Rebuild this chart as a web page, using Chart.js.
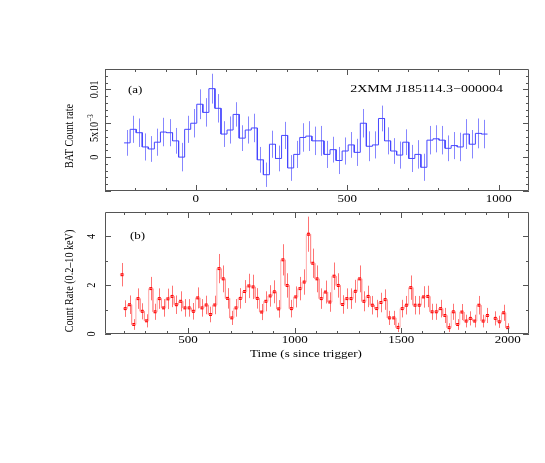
<!DOCTYPE html>
<html>
<head>
<meta charset="utf-8">
<script src="https://cdn.jsdelivr.net/npm/chart.js@4.4.1/dist/chart.umd.min.js"></script>
<style>
html, body { margin: 0; padding: 0; background: #fff; }
#wrap { position: relative; width: 545px; height: 463px; }
canvas { position: absolute; left: 0; top: 0; }
</style>
</head>
<body>
<div id="wrap">
  <canvas id="batChart" width="545" height="463"></canvas>
  <canvas id="xrtChart" width="545" height="463"></canvas>
</div>
<script>
// ---- panel (a): BAT light curve, 20 s bins (bin centres, s since trigger)
const batBinWidth = 20;
const batTime = [-227,-207,-187,-167,-147,-127,-107,-87,-67,-47,-27,-7,13,33,53,73,93,113,133,153,
  173,193,213,233,253,273,293,313,333,353,373,393,413,433,453,473,493,513,533,553,
  573,593,613,633,653,673,693,713,733,753,773,793,813,833,853,873,893,913,933,953];
const batRate = [0.0021,0.0041,0.0036,0.0015,0.0012,0.0022,0.0037,0.0036,0.0024,0.0000,
  0.0041,0.0050,0.0078,0.0066,0.0101,0.0072,0.0034,0.0040,0.0063,0.0028,
  0.0040,0.0043,-0.0004,-0.0026,0.0019,-0.0002,0.0032,-0.0016,0.0004,0.0029,
  0.0031,0.0024,0.0024,0.0004,0.0011,-0.0005,0.0009,0.0018,0.0007,0.0050,
  0.0016,0.0018,0.0057,0.0024,0.0009,0.0003,0.0022,-0.0002,0.0004,-0.0015,
  0.0025,0.0027,0.0025,0.0013,0.0017,0.0015,0.0034,0.0019,0.0035,0.0034];
const batErr = [0.0019,0.0020,0.0021,0.0020,0.0019,0.0020,0.0021,0.0020,0.0019,0.0021,
  0.0020,0.0021,0.0022,0.0021,0.0022,0.0021,0.0019,0.0020,0.0018,0.0019,
  0.0020,0.0021,0.0019,0.0018,0.0020,0.0019,0.0020,0.0019,0.0020,0.0021,
  0.0022,0.0021,0.0022,0.0020,0.0019,0.0020,0.0020,0.0019,0.0020,0.0021,
  0.0022,0.0020,0.0019,0.0020,0.0019,0.0020,0.0019,0.0020,0.0021,0.0020,
  0.0021,0.0020,0.0021,0.0019,0.0020,0.0021,0.0022,0.0021,0.0022,0.0021];
const batXTicks = [0, 500, 1000];
const batYTicks = [0, 0.005, 0.01];
const batYLabels = ['0', '5x10|\u22123', '0.01'];   // "|" splits off the exponent

// ---- panel (b): XRT light curve (0.2-10 keV), 20 s bins
const xrtBinWidth = 20;
const xrtTime = [190,
  205,225,245,265,285,305,325,345,365,385,405,425,445,465,485,505,525,545,565,585,
  605,625,645,665,685,705,725,745,765,785,805,825,845,865,885,905,925,945,965,985,
  1005,1025,1045,1065,1085,1105,1125,1145,1165,1185,1205,1225,1245,1265,1285,1305,1325,1345,1365,1385,
  1405,1425,1445,1465,1485,1505,1525,1545,1565,1585,1605,1625,1645,1665,1685,1705,1725,1745,1765,1785,
  1805,1825,1845,1865,1885,1905,
  1942,1961,1981,2000];
const xrtRate = [2.43,
  1.04,1.20,0.39,1.45,0.93,0.54,1.86,0.91,1.45,1.07,1.44,1.54,1.20,1.34,1.07,1.07,0.93,1.48,1.07,1.19,
  0.80,1.19,2.68,2.26,1.46,0.66,1.07,1.46,1.74,1.97,1.93,1.46,0.90,1.34,1.56,1.73,1.03,3.04,1.99,1.04,
  1.52,1.86,2.13,4.09,2.90,2.26,1.45,1.72,1.31,2.37,1.99,1.21,1.45,1.45,1.75,2.26,1.34,1.54,1.18,1.04,
  1.29,1.41,0.66,0.66,0.27,1.04,1.18,1.90,1.18,1.18,1.52,1.54,0.91,0.91,1.04,0.76,0.26,0.91,0.39,0.90,
  0.53,0.64,0.53,1.18,0.53,0.76,
  0.64,0.50,0.87,0.26];
const xrtErr = [0.48,
  0.34,0.38,0.22,0.42,0.33,0.27,0.48,0.33,0.42,0.36,0.42,0.44,0.38,0.41,0.36,0.36,0.34,0.43,0.36,0.38,
  0.32,0.38,0.60,0.55,0.42,0.29,0.36,0.42,0.47,0.50,0.50,0.42,0.33,0.41,0.44,0.47,0.36,0.64,0.50,0.36,
  0.43,0.48,0.52,0.72,0.60,0.55,0.42,0.47,0.40,0.56,0.50,0.38,0.42,0.42,0.47,0.55,0.41,0.44,0.38,0.36,
  0.40,0.42,0.29,0.29,0.19,0.36,0.38,0.50,0.38,0.38,0.44,0.44,0.33,0.33,0.36,0.31,0.18,0.33,0.22,0.33,
  0.26,0.29,0.26,0.38,0.26,0.31,
  0.29,0.25,0.33,0.18];
const xrtSegmentStarts = [0, 1, 87];  // indices where the connecting line is broken
const xrtXTicks = [500, 1000, 1500, 2000];
const xrtYTicks = [0, 2, 4];

const FONT = '"Liberation Serif", "Times New Roman", serif';
const SQUASH = 0.78;

// histogram outline from bin centres
function histPoints(times, vals, width, breaks) {
  const pts = [];
  for (let i = 0; i < times.length; i++) {
    if (breaks && i > 0 && breaks.includes(i)) pts.push({x: (times[i] + times[i - 1]) / 2, y: null});
    pts.push({x: times[i] - width / 2, y: vals[i]}, {x: times[i] + width / 2, y: vals[i]});
  }
  return pts;
}

function hText(ctx, s, x, y, size, align) {
  ctx.save();
  ctx.translate(x, y);
  ctx.scale(1, SQUASH);
  ctx.font = size + 'px ' + FONT;
  ctx.fillStyle = '#000';
  ctx.textAlign = align || 'center';
  ctx.textBaseline = 'middle';
  ctx.fillText(s, 0, 0);
  ctx.restore();
}

function vText(ctx, s, x, y, size) {
  ctx.save();
  ctx.translate(x, y);
  ctx.rotate(-Math.PI / 2);
  ctx.scale(SQUASH, 1);
  ctx.fillStyle = '#000';
  ctx.textBaseline = 'middle';
  ctx.textAlign = 'left';
  const parts = s.split('|');
  ctx.font = size + 'px ' + FONT;
  const w1 = ctx.measureText(parts[0]).width;
  let w2 = 0;
  if (parts[1]) {
    ctx.font = Math.round(size * 0.7) + 'px ' + FONT;
    w2 = ctx.measureText(parts[1]).width;
  }
  const x0 = -(w1 + w2) / 2;
  ctx.font = size + 'px ' + FONT;
  ctx.fillText(parts[0], x0, 0);
  if (parts[1]) {
    ctx.font = Math.round(size * 0.7) + 'px ' + FONT;
    ctx.fillText(parts[1], x0 + w1, -4);
  }
  ctx.restore();
}

function drawFrame(chart, f) {
  const {ctx, chartArea: a} = chart;
  const x = chart.scales.x, y = chart.scales.y;
  ctx.save();
  ctx.strokeStyle = '#555';
  ctx.lineWidth = 1;
  ctx.beginPath();
  ctx.rect(a.left + 0.5, a.top + 0.5, a.right - a.left - 1, a.bottom - a.top - 1);
  const near = (v, m) => Math.abs(v / m - Math.round(v / m)) < 1e-6;
  for (let v = Math.ceil(x.min / f.xMinor) * f.xMinor; v < x.max; v += f.xMinor) {
    const px = Math.round(x.getPixelForValue(v)) + 0.5;
    const len = near(v, f.xMajor) ? 6 : 3;
    ctx.moveTo(px, a.bottom); ctx.lineTo(px, a.bottom - len);
    ctx.moveTo(px, a.top); ctx.lineTo(px, a.top + len);
  }
  for (let k = Math.ceil(y.min / f.yMinor); k * f.yMinor < y.max; k++) {
    const v = k * f.yMinor;
    const py = Math.round(y.getPixelForValue(v)) + 0.5;
    const len = near(v, f.yMajor) ? 6 : 3;
    ctx.moveTo(a.left, py); ctx.lineTo(a.left + len, py);
    ctx.moveTo(a.right, py); ctx.lineTo(a.right - len, py);
  }
  ctx.stroke();
  ctx.restore();
  f.xTicks.forEach(v => hText(ctx, String(v), x.getPixelForValue(v), f.xLabelY, 13));
  f.yTicks.forEach((v, i) => {
    const shift = f.yLabels[i].includes('|') ? 5 : 0;
    vText(ctx, f.yLabels[i], f.yLabelX, y.getPixelForValue(v) + shift, 13);
  });
}

function errorBars(chart, times, vals, errs, color) {
  const {ctx} = chart;
  const x = chart.scales.x, y = chart.scales.y;
  ctx.save();
  ctx.strokeStyle = color;
  ctx.lineWidth = 1;
  ctx.beginPath();
  for (let i = 0; i < times.length; i++) {
    const px = Math.round(x.getPixelForValue(times[i])) + 0.5;
    ctx.moveTo(px, y.getPixelForValue(vals[i] - errs[i]));
    ctx.lineTo(px, y.getPixelForValue(vals[i] + errs[i]));
  }
  ctx.stroke();
  ctx.restore();
}

const commonOpts = {
  responsive: false,
  animation: false,
  events: [],
  plugins: {legend: {display: false}, tooltip: {enabled: false}},
};

new Chart(document.getElementById('batChart'), {
  type: 'line',
  data: {
    datasets: [{
      data: histPoints(batTime, batRate, batBinWidth),
      borderColor: '#4646ff',
      borderWidth: 1,
      pointRadius: 0,
      tension: 0
    }]
  },
  options: Object.assign({}, commonOpts, {
    layout: {padding: {left: 105, right: 16, top: 69, bottom: 272}},
    scales: {
      x: {type: 'linear', display: false, min: -300, max: 1100},
      y: {type: 'linear', display: false, min: -0.005, max: 0.013}
    }
  }),
  plugins: [{
    id: 'batDecor',
    beforeDatasetsDraw(chart) {
      errorBars(chart, batTime, batRate, batErr, 'rgba(95,95,255,0.75)');
    },
    afterDraw(chart) {
      drawFrame(chart, {xMinor: 100, xMajor: 500, yMinor: 0.001, yMajor: 0.005,
        xTicks: batXTicks, xLabelY: 199, yTicks: batYTicks, yLabels: batYLabels, yLabelX: 94.5});
      const ctx = chart.ctx;
      vText(ctx, 'BAT Count rate', 70, 136, 13);
      hText(ctx, '(a)', 128, 90, 13, 'left');
      hText(ctx, '2XMM J185114.3\u2212000004', 503, 89.5, 14, 'right');
    }
  }]
});

new Chart(document.getElementById('xrtChart'), {
  type: 'line',
  data: {
    datasets: [{
      data: histPoints(xrtTime, xrtRate, xrtBinWidth, xrtSegmentStarts),
      borderColor: 'rgba(255,140,140,0.75)',
      borderWidth: 1,
      pointRadius: 0,
      spanGaps: false,
      tension: 0
    }, {
      data: xrtTime.map((t, i) => ({x: t, y: xrtRate[i]})),
      showLine: false,
      pointStyle: 'rect',
      pointRadius: 2.1,
      pointBackgroundColor: '#ff0000',
      pointBorderColor: '#ff0000',
      pointBorderWidth: 0
    }]
  },
  options: Object.assign({}, commonOpts, {
    layout: {padding: {left: 105, right: 16, top: 212, bottom: 129}},
    scales: {
      x: {type: 'linear', display: false, min: 110, max: 2100},
      y: {type: 'linear', display: false, min: 0, max: 5}
    }
  }),
  plugins: [{
    id: 'xrtDecor',
    beforeDatasetsDraw(chart) {
      errorBars(chart, xrtTime, xrtRate, xrtErr, 'rgba(255,80,80,0.8)');
    },
    afterDraw(chart) {
      drawFrame(chart, {xMinor: 100, xMajor: 500, yMinor: 1, yMajor: 2,
        xTicks: xrtXTicks, xLabelY: 340.8, yTicks: xrtYTicks, yLabels: xrtYTicks.map(String), yLabelX: 92});
      const ctx = chart.ctx;
      vText(ctx, 'Count Rate (0.2\u201310 keV)', 70, 281, 13);
      hText(ctx, '(b)', 130, 236, 13, 'left');
      hText(ctx, 'Time (s since trigger)', 306, 354, 13);
    }
  }]
});
</script>
</body>
</html>
